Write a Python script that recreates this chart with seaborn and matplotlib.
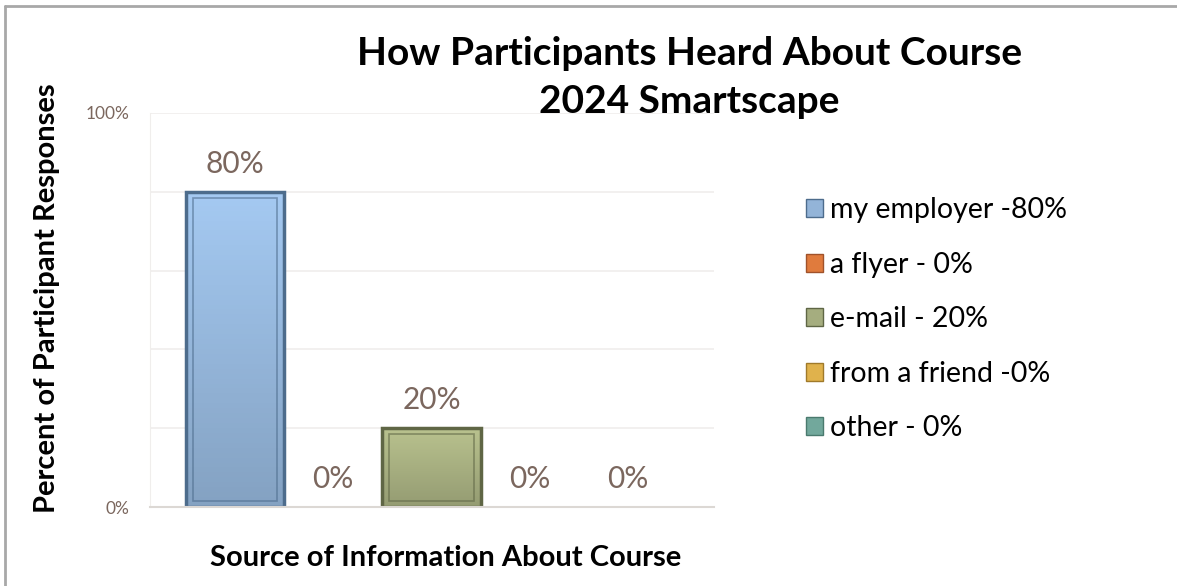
import numpy as np
import pandas as pd
import seaborn as sns
import matplotlib.pyplot as plt
from matplotlib.patches import Patch

sources = ["my employer -80%", "a flyer - 0%", "e-mail - 20%", "from a friend -0%", "other - 0%"]
percent = [80, 0, 20, 0, 0]
colors = ["#93b4d8", "#e07b3d", "#a5ad7f", "#e0b24c", "#72a89c"]
edges = ["#4d6c8c", "#a0522a", "#5f6645", "#a07a2a", "#4a7a6e"]

df = pd.DataFrame({"source": sources, "percent": percent})

sns.set_style("white")
plt.rcParams["font.family"] = ["Lato", "DejaVu Sans"]
plt.rcParams["text.color"] = "black"
plt.rcParams["axes.labelcolor"] = "black"

fig = plt.figure(figsize=(11.77, 5.86), dpi=100)
ax = fig.add_axes([0.1274, 0.1348, 0.4792, 0.6724])

sns.barplot(data=df, x="source", y="percent", hue="source", palette=colors,
            width=1.0, legend=False, ax=ax, saturation=1)

# gradient fill + bevel-ish edge on each bar
for patch, c, e in zip(ax.patches, colors, edges):
    h = patch.get_height()
    if h <= 0:
        continue
    x0, y0 = patch.get_x(), patch.get_y()
    w = patch.get_width()
    rgb = np.array(plt.matplotlib.colors.to_rgb(c))
    grad = np.linspace(1.12, 0.9, 64)[:, None, None] * rgb[None, None, :]
    grad = np.clip(np.repeat(grad, 2, axis=1), 0, 1)
    im = ax.imshow(grad, extent=[x0, x0 + w, y0, y0 + h], origin="upper",
                   aspect="auto", zorder=patch.get_zorder() + 0.1)
    im.set_clip_path(patch)
    patch.set_edgecolor(e)
    patch.set_linewidth(2.5)
    patch.set_zorder(patch.get_zorder() + 0.2)
    patch.set_facecolor("none")
    inset = w * 0.07
    ax.add_patch(plt.Rectangle((x0 + inset, y0 + 1.5), w - 2 * inset, h - 3,
                               fill=False, edgecolor=e, linewidth=1.2, alpha=0.6,
                               zorder=patch.get_zorder()))

ax.set_xlim(-0.865, 4.875)
ax.set_ylim(0, 100)

# value labels
for i, v in enumerate(percent):
    ax.annotate(f"{v}%", (i, v), xytext=(0, 20), textcoords="offset points",
                ha="center", va="center", fontsize=21.5, color="#7b675e")

ax.set_yticks([0, 20, 40, 60, 80, 100])
ax.set_yticklabels(["0%", "", "", "", "", "100%"])
ax.tick_params(axis="y", length=0, labelsize=12.5, labelcolor="#7b675e", pad=15)
ax.set_xticks([])
ax.grid(axis="y", color="#f0eeec", linewidth=1.2)
ax.set_axisbelow(True)
for s in ["top", "right"]:
    ax.spines[s].set_visible(False)
ax.spines["left"].set_color("#f0eeec")
ax.spines["bottom"].set_color("#dcd8d4")
ax.spines["bottom"].set_linewidth(1.5)

ax.set_xlabel("Source of Information About Course", fontsize=21, fontweight="bold")
ax.xaxis.set_label_coords(0.524, -0.097)
ax.set_ylabel("Percent of Participant Responses", fontsize=21, fontweight="bold")
ax.yaxis.set_label_coords(-0.16, 0.53)

fig.text(0.586, 0.868, "How Participants Heard About Course\n2024 Smartscape",
         ha="center", va="center", fontsize=28, fontweight="bold", linespacing=1.45)

handles = [Patch(facecolor=c, edgecolor=e, linewidth=1) for c, e in zip(colors, edges)]
fig.legend(handles, sources, loc="center left", bbox_to_anchor=(0.663, 0.455),
           frameon=False, fontsize=20.5, handlelength=0.6, handleheight=0.6,
           handletextpad=0.25, labelspacing=1.0)

# outer border like the chart frame
fig.add_artist(plt.Line2D([0.0045, 1], [0.989, 0.989], color="#a8a8a8", lw=2,
                          transform=fig.transFigure))
fig.add_artist(plt.Line2D([0.0045, 0.0045], [0, 0.989], color="#a8a8a8", lw=2,
                          transform=fig.transFigure))

fig.savefig("out.png", dpi=100)
